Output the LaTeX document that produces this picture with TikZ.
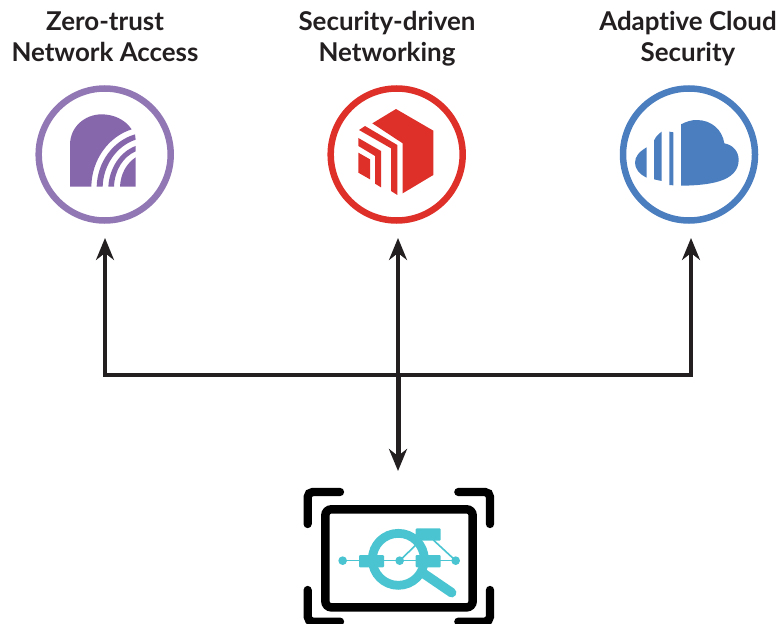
\documentclass[tikz,border=0pt]{standalone}
\usepackage{fontspec}
\setmainfont{Lato}[Ligatures=NoCommon]
\usetikzlibrary{arrows.meta}
\definecolor{zpurple}{HTML}{9277B5}
\definecolor{zpurpled}{HTML}{8767AC}
\definecolor{sred}{HTML}{DE2F29}
\definecolor{cblue}{HTML}{4A7EBF}
\definecolor{mteal}{HTML}{49C4D0}
\definecolor{linek}{HTML}{231F20}
\newcommand{\topst}{\rule{0pt}{20pt}}
\newcommand{\botst}{\rule[-7pt]{0pt}{7pt}}
\tikzset{
  lab/.style={font=\bfseries\fontsize{25.9}{31}\selectfont,text=linek,align=center,inner sep=0pt},
  ring/.style={circle,draw=#1,line width=6.5pt,minimum size=132pt,inner sep=0pt,outer sep=0pt},
  conn/.style={draw=linek,line width=3.2pt},
  tip/.style={-{Stealth[length=22pt,width=18pt,inset=7pt]}},
  bracket/.style={line width=8.3pt,line cap=round,rounded corners=5pt,draw=black},
  tealline/.style={draw=mteal,line width=1.6pt}
}
\begin{document}
\begin{tikzpicture}[x=1pt,y=-1pt]
\useasboundingbox (0,0) rectangle (783,623);
\clip (0,0) rectangle (783,623);
% labels
\node[lab] (l1) at (105,40) {\topst Zero-trust\\Network Access\botst};
\node[lab] (l2) at (387,40) {\topst Security-driven\\Networking\botst};
\node[lab] (l3) at (688,40) {\topst Adaptive Cloud\\Security\botst};
% rings
\node[ring=zpurple] (zt) at (104.7,154.5) {};
\node[ring=sred] (sd) at (396.7,154.5) {};
\node[ring=cblue] (ac) at (689,154.5) {};
% purple icon
\begin{scope}[shift={(20,70)},scale=1/3]
\fill[zpurpled] (150,350) -- (150,225) .. controls (150,170) and (195,133) .. (245,133)
  .. controls (280,133) and (315,148) .. (335,178)
  .. controls (265,200) and (215,270) .. (214,350) -- cycle;
\fill[zpurpled] (230,350) .. controls (232,275) and (280,212) .. (345,193) -- (347,209)
  .. controls (290,228) and (250,285) .. (248,350) -- cycle;
\fill[zpurpled] (265,350) .. controls (268,295) and (300,245) .. (347,228) -- (347,244)
  .. controls (310,260) and (284,300) .. (282,350) -- cycle;
\fill[zpurpled] (300,350) .. controls (302,310) and (320,280) .. (347,262) -- (347,350) -- cycle;
\end{scope}
% red icon
\begin{scope}[shift={(315,70)},scale=1/3]
\fill[sred] (172,160) -- (243,117) -- (355,182) -- (355,315) -- (263,370) -- (263,220) -- cycle;
\fill[sred] (132,180) -- (150,168) -- (247,225) -- (247,375) -- (228,363) -- (228,235) -- cycle;
\fill[sred] (130,204) -- (198,243) -- (198,352) -- (180,341) -- (180,258) -- (130,228) -- cycle;
\fill[sred] (130,248) -- (165,268) -- (165,328) -- (130,308) -- cycle;
\end{scope}
% blue icon
\begin{scope}[shift={(605,70)},scale=1/3]
\fill[cblue] (228,163) .. controls (245,154) and (260,150) .. (275,150)
  .. controls (320,150) and (352,180) .. (358,220)
  .. controls (385,225) and (401,245) .. (401,270)
  .. controls (401,300) and (380,322) .. (345,333)
  .. controls (315,343) and (270,347) .. (228,347) -- cycle;
\fill[cblue] (125,232) .. controls (102,245) and (90,260) .. (90,278)
  .. controls (90,296) and (102,312) .. (125,323) -- cycle;
\fill[cblue] (170,185) .. controls (160,192) and (152,200) .. (147,212) -- (147,328) -- (170,333) -- cycle;
\fill[cblue] (193,185) -- (205,187) -- (205,346) -- (193,345) -- cycle;
\end{scope}
% monitor icon
\begin{scope}[shift={(295,480)},scale=1/3]
\node[draw=black,line width=8.5pt,rounded corners=6pt,minimum width=147.3pt,minimum height=98pt,inner sep=0pt,outer sep=0pt] (mon) at (312,235) {};
\draw[bracket] (38,132) -- (38,36) -- (135,36);
\draw[bracket] (490,36) -- (585,36) -- (585,132);
\draw[bracket] (38,330) -- (38,425) -- (135,425);
\draw[bracket] (490,425) -- (585,425) -- (585,330);
\draw[tealline] (143,242) -- (482,242);
\draw[tealline] (314,242) -- (378,180);
\draw[tealline] (415,180) -- (482,242);
\draw[draw=mteal,line width=8.8pt] (310,238) circle (78);
\draw[draw=mteal,line width=9.5pt,line cap=round] (388,282) -- (470,338);
\fill[mteal] (143,242) circle (13);
\fill[mteal] (314,242) circle (13);
\fill[mteal] (482,242) circle (13);
\fill[mteal,rounded corners=1pt] (192,225) rectangle (267,262);
\fill[mteal,rounded corners=1pt] (362,225) rectangle (437,262);
\fill[mteal,rounded corners=1pt] (362,145) rectangle (437,182);
\end{scope}
% connectors
\coordinate (hubL) at (105,375);
\coordinate (hubC) at (398,375);
\coordinate (hubR) at (691,375);
\coordinate (endL) at (105,238);
\coordinate (endC) at (398,238);
\coordinate (endR) at (691,238);
\coordinate (endD) at (398,471);
\draw[conn,tip,line join=miter] (hubC) -- (hubL) -- (endL);
\draw[conn,tip,line join=miter] (hubC) -- (hubR) -- (endR);
\draw[conn,tip] (hubC) -- (endC);
\draw[conn,line width=5pt,tip] (hubC) -- (endD);
\end{tikzpicture}
\end{document}
